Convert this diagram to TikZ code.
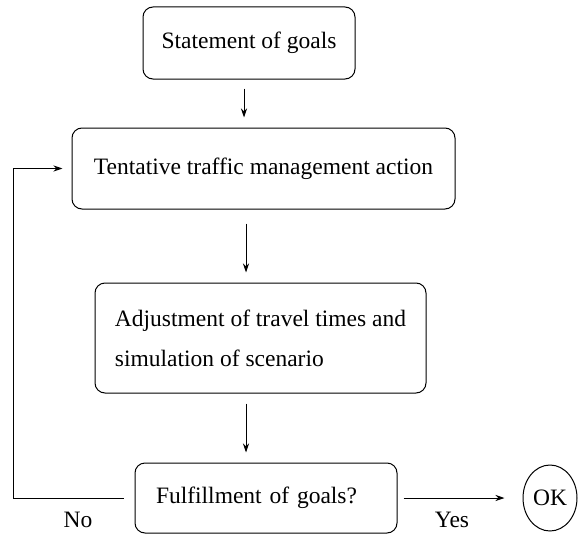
\documentclass[tikz,border=0pt]{standalone}
\usepackage{fontspec}
\setmainfont{Liberation Serif}
\newfontfamily\diagfont{Liberation Serif}
\usetikzlibrary{arrows.meta,shapes.geometric}
\begin{document}
\begin{tikzpicture}[x=1pt,y=-1pt,
  every node/.style={font=\diagfont\fontsize{23.5}{40}\selectfont},
  box/.style={draw,rounded corners=10pt,line width=1pt,inner sep=0pt},
  arr/.style={line width=1pt,-{Stealth[length=9pt,width=6pt,inset=3pt]}},
  lbl/.style={inner sep=0pt}]
\useasboundingbox (0,0) rectangle (578,535);
\node[box,minimum width=212pt,minimum height=72pt] (goals) at (249,43) {Statement of goals};
\node[box,minimum width=383pt,minimum height=81pt] (action) at (263.5,168.5) {Tentative traffic management action};
\node[box,minimum width=331pt,minimum height=110pt,align=left] (adjust) at (260.5,338) {Adjustment of travel times and\\simulation of scenario};
\node[box,minimum width=262pt,minimum height=70pt,text width=220pt,inner xsep=21pt,align=left] (fulfil) at (266,498) {Fulfillment of goals?};
\node[draw,ellipse,line width=1pt,minimum width=54pt,minimum height=66pt,inner sep=0pt] (ok) at (550,498) {OK};
\coordinate (xa) at (244,0);
\coordinate (xb) at (246,0);
\coordinate (xl) at (13,0);
\draw[arr,shorten <=9pt,shorten >=10pt] (goals.south -| xa) -- (action.north -| xa);
\draw[arr,shorten <=14pt,shorten >=10pt] (action.south -| xb) -- (adjust.north -| xb);
\draw[arr,shorten <=10pt,shorten >=10pt] (adjust.south -| xb) -- (fulfil.north -| xb);
\draw[arr,shorten <=11pt,shorten >=9pt] (fulfil.west) -| (action.west -| xl) -- (action.west);
\draw[arr,shorten <=6pt,shorten >=18pt] (fulfil.east) -- (ok.west);
\node[lbl] (no) at (78,520) {No};
\node[lbl] (yes) at (452,520) {Yes};
\end{tikzpicture}
\end{document}
